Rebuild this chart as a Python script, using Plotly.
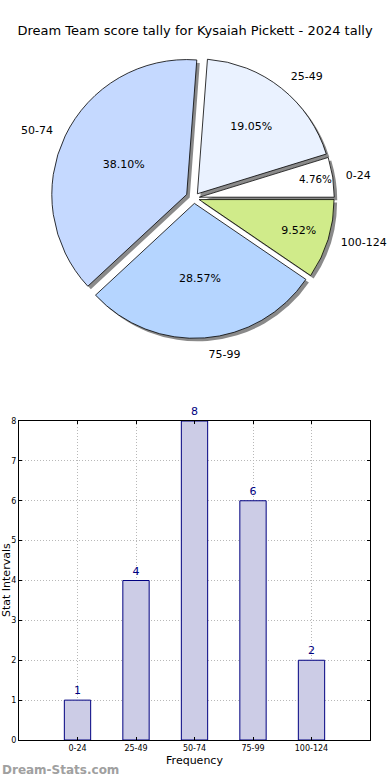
import plotly.graph_objects as go

# ---- data ----
categories = ["0-24", "25-49", "50-74", "75-99", "100-124"]
counts = [1, 4, 8, 6, 2]
pie_colors = ["#ffffff", "#eaf2ff", "#c5d9ff", "#b5d5ff", "#d0eb8a"]
pulls = [0.04, 0.04, 0.06, 0.04, 0.04]
y_ticks = [0, 1, 2, 3, 4, 5, 6, 7, 8]
title_text = "Dream Team score tally for Kysaiah Pickett - 2024 tally"

W, H = 390, 780
FONT = "DejaVu Sans"

# pie geometry (pixels) -> paper domain
cx, cy, half = 194, 198, 143
def dom(dx=0, dy=0, h=half):
    return dict(x=[(cx - h + dx) / W, (cx + h + dx) / W],
                y=[(H - cy - h - dy) / H, (H - cy + h - dy) / H])

rot = 90 - 360 * counts[0] / sum(counts)

fig = go.Figure()

# shadow
fig.add_trace(go.Pie(
    labels=categories, values=counts, sort=False, direction="counterclockwise",
    rotation=rot, pull=pulls, domain=dom(3, 3),
    marker=dict(colors=["#8a8a8a"] * 5, line=dict(width=0)),
    textinfo="none", hoverinfo="skip", showlegend=False))

# main pie with percentages
fig.add_trace(go.Pie(
    labels=categories, values=counts, sort=False, direction="counterclockwise",
    rotation=rot, pull=pulls, domain=dom(),
    marker=dict(colors=pie_colors, line=dict(color="#000000", width=0.8)),
    texttemplate="%{percent:.2%}", textposition="inside",
    insidetextorientation="horizontal",
    textfont=dict(family=FONT, size=11, color="#000000"),
    showlegend=False))

# labels outside (transparent, slightly larger overlay)
fig.add_trace(go.Pie(
    labels=categories, values=counts, sort=False, direction="counterclockwise",
    rotation=rot, pull=pulls, domain=dom(h=half * 1.07),
    marker=dict(colors=["rgba(0,0,0,0)"] * 5, line=dict(width=0)),
    texttemplate="%{label}", textposition="outside",
    outsidetextfont=dict(family=FONT, size=11, color="#000000"),
    hoverinfo="skip", showlegend=False))

# bar chart
fig.add_trace(go.Bar(
    x=categories, y=counts, width=0.45,
    marker=dict(color="#ccccE6", line=dict(color="#000080", width=1)),
    text=[str(c) for c in counts], textposition="outside",
    textfont=dict(family=FONT, size=11, color="#000080"),
    cliponaxis=False, showlegend=False))

fig.update_layout(
    width=W, height=H, margin=dict(l=0, r=0, t=0, b=0, autoexpand=False),
    paper_bgcolor="white", plot_bgcolor="white",
    font=dict(family=FONT, color="#000000"),
    title=dict(text=title_text, x=0.5, xanchor="center", y=1 - 30 / H, yanchor="middle",
               font=dict(family=FONT, size=13, color="#000000")),
    xaxis=dict(domain=[19 / W, 370 / W], range=[-1, 5], type="category", automargin=False,
               showgrid=True, gridcolor="#b8b8b8", griddash="1px,2px", gridwidth=1,
               showline=True, linecolor="#000000", linewidth=1, mirror="ticks",
               ticks="inside", ticklen=3, tickcolor="#000000",
               tickfont=dict(family=FONT, size=8, color="#000000"),
               title=dict(text="Frequency", standoff=4, font=dict(family=FONT, size=11)),
               zeroline=False),
    yaxis=dict(domain=[40 / H, 359 / H], range=[0, 8], tickvals=y_ticks, automargin=False,
               showgrid=True, gridcolor="#b8b8b8", griddash="1px,2px", gridwidth=1,
               showline=True, linecolor="#000000", linewidth=1, mirror="ticks",
               ticks="inside", ticklen=3, tickcolor="#000000",
               tickfont=dict(family=FONT, size=8, color="#000000"),
               zeroline=False),
    annotations=[
        dict(text="Stat Intervals", xref="paper", yref="paper", x=6 / W, y=(H - 580) / H,
             textangle=-90, showarrow=False, xanchor="center", yanchor="middle",
             font=dict(family=FONT, size=11, color="#000000")),
        dict(text="<b>Dream-Stats.com</b>", xref="paper", yref="paper", x=0, y=(H - 770) / H,
             showarrow=False, xanchor="left", yanchor="middle",
             font=dict(family=FONT, size=12, color="#a0a0a0")),
    ],
)

fig.write_html("out.html", config={"displayModeBar": False},
               post_script="document.body.style.margin='0';")
